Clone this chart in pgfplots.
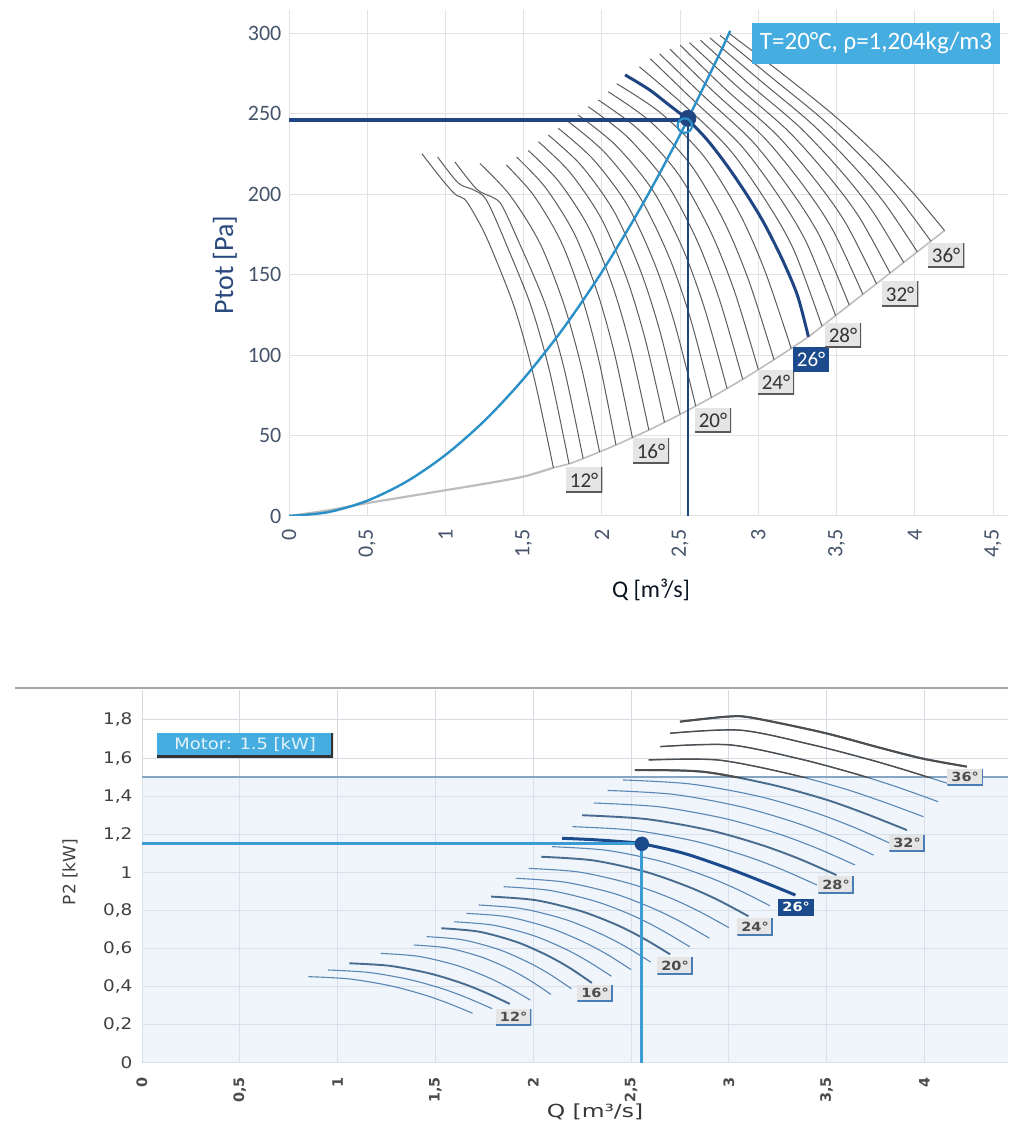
\documentclass[border=0pt]{standalone}
\usepackage{pgfplots}
\pgfplotsset{compat=1.18}
\usepackage{fontspec}
\setmainfont{Carlito}
\newfontfamily\botfont[FakeStretch=1.15]{DejaVu Sans}
\newfontfamily\botwide[FakeStretch=1.3]{DejaVu Sans}
\newfontfamily\botplain{DejaVu Sans}
\definecolor{navy}{HTML}{1F4582}
\definecolor{navylbl}{HTML}{2A4A7E}
\definecolor{sysblue}{HTML}{2B90C8}
\definecolor{boxblue}{HTML}{45ADE0}
\definecolor{fancurve}{HTML}{5C5C5C}
\definecolor{envgray}{HTML}{BDBDBD}
\definecolor{gridc}{HTML}{E2E2E2}
\definecolor{botgrid}{HTML}{D6DBE1}
\definecolor{tickc}{HTML}{45546A}
\definecolor{botcurve}{HTML}{5A87B4}
\definecolor{botdark}{HTML}{4E4E4E}
\definecolor{shade}{HTML}{DCE8F4}
\definecolor{motorline}{HTML}{86A6C4}
\definecolor{oplight}{HTML}{3A9BD5}
\definecolor{navy2}{HTML}{1B4B8C}
\definecolor{lblblue}{HTML}{4A7DB5}
\pgfplotsset{
  fan/.style={fancurve, line width=0.5pt, smooth},
  bcurve/.style={botcurve, line width=0.55pt, smooth},
  bthick/.style={botcurve!80!black, line width=0.95pt, smooth},
  dcurve/.style={botdark, line width=0.7pt, smooth},
  dthick/.style={botdark, line width=1pt, smooth},
}
\tikzset{
  tlbl/.style={fill=black!10, text=black!80, font=\fontsize{10.5}{11}\selectfont,
    inner xsep=2pt, inner ysep=1.5pt, minimum height=12.5pt,
    path picture={\draw[black!65, line width=1.4pt] (path picture bounding box.north east) -- (path picture bounding box.south east) -- (path picture bounding box.south west);}},
  tlblsel/.style={fill=navy2, text=white, font=\fontsize{10.5}{11}\selectfont,
    inner xsep=2pt, inner ysep=1.5pt, minimum height=12.5pt},
  blbl/.style={fill=black!10, text=black!70, font=\botfont\bfseries\fontsize{6.3}{7}\selectfont,
    inner xsep=2pt, inner ysep=1pt, minimum height=8.5pt,
    path picture={\draw[lblblue, line width=1.3pt] (path picture bounding box.north east) -- (path picture bounding box.south east) -- (path picture bounding box.south west);}},
  blblsel/.style={fill=navy2, text=white, font=\botfont\bfseries\fontsize{6.3}{7}\selectfont,
    inner xsep=2pt, inner ysep=1pt, minimum height=8.5pt},
}
\begin{document}
\begin{tikzpicture}[x=1pt,y=1pt]
\useasboundingbox (0,0) rectangle (504,561.5);
\draw[black!35, line width=0.6pt] (7.5,217.5) -- (504,217.5);
% ================= TOP CHART =================
\begin{axis}[
  at={(144.5pt,303.5pt)}, anchor=south west, scale only axis,
  width=359.5pt, height=252.75pt,
  xmin=0, xmax=4.596, ymin=0, ymax=314,
  xtick={0,0.5,1,1.5,2,2.5,3,3.5,4,4.5},
  ytick={0,50,100,150,200,250,300},
  grid=major, grid style={gridc, line width=0.5pt},
  axis line style={draw=none}, major tick length=0pt,
  tick label style={font=\fontsize{11}{12}\selectfont, text=tickc},
  /pgf/number format/assume math mode=true,
  /pgf/number format/use comma,
  xticklabel style={rotate=90, anchor=east},
  xticklabel shift=3.3pt,
  yticklabel shift=0.3pt,
]
% lower envelope
\addplot[envgray, line width=1.1pt, smooth] coordinates {(0,0)(0.25,3.5)(0.5,8)(0.75,12)(1.0,16)(1.25,20)(1.5,24.5)(1.69,30)};
\addplot[envgray, line width=0.8pt, smooth] coordinates {(1.69,30)(1.79,32.4)(1.88,35.7)(1.985,39.8)(2.09,44.1)(2.195,48.7)(2.30,53.4)(2.40,58.2)(2.50,63.1)(2.60,68.3)(2.70,73.6)(2.80,79.2)(2.90,84.9)(3.00,90.9)(3.10,97.1)(3.21,104.1)(3.32,111.3)(3.407,117.9)(3.494,124.5)(3.581,131.1)(3.668,137.7)(3.755,144.3)(3.842,150.9)(3.929,157.5)(4.016,164.1)(4.103,170.7)(4.19,177.3)};
% fan curves 10..36 deg
\addplot[fan] coordinates {(0.85,225)(0.97,210)(1.06,200)(1.12,197)(1.17,190)(1.27,171.4)(1.438,130.3)(1.564,86.9)(1.69,30)};
\addplot[fan] coordinates {(0.95,223)(1.08,207)(1.17,203)(1.24,199)(1.29,191)(1.38,170.8)(1.545,131)(1.668,89)(1.79,32.4)};
\addplot[fan] coordinates {(1.06,220)(1.20,203)(1.30,198)(1.36,193)(1.47,170)(1.638,131.5)(1.76,91)(1.88,35.7)};
\addplot[fan] coordinates {(1.22,219)(1.411,199.4)(1.6025,169.7)(1.7555,131.9)(1.870,92.1)(1.985,39.8)};
\addplot[fan] coordinates {(1.39,218)(1.565,199)(1.74,170.2)(1.88,133.5)(1.985,94.8)(2.09,44.1)};
\addplot[fan] coordinates {(1.455,223)(1.64,203.9)(1.825,175.1)(1.973,138.3)(2.084,99.5)(2.195,48.7)};
\addplot[fan] coordinates {(1.53,227)(1.7225,208)(1.915,179.3)(2.069,142.7)(2.1845,104)(2.30,53.4)};
\addplot[fan] coordinates {(1.594,232.5)(1.796,213.4)(1.997,184.6)(2.158,147.8)(2.279,109)(2.40,58.2)};
\addplot[fan] coordinates {(1.658,236.6)(1.869,217.6)(2.079,188.9)(2.247,152.3)(2.374,113.7)(2.50,63.1)};
\addplot[fan] coordinates {(1.721,240.8)(1.941,221.9)(2.161,193.4)(2.336,157)(2.468,118.6)(2.60,68.3)};
\addplot[fan] coordinates {(1.785,245)(2.014,226.2)(2.243,197.9)(2.426,161.7)(2.563,123.6)(2.70,73.6)};
\addplot[fan] coordinates {(1.849,249)(2.087,230.4)(2.325,202.3)(2.515,166.5)(2.657,128.7)(2.80,79.2)};
\addplot[fan] coordinates {(1.913,254.2)(2.160,235.7)(2.407,207.6)(2.604,172)(2.752,134.3)(2.90,84.9)};
\addplot[fan] coordinates {(1.977,258.4)(2.233,240.1)(2.489,212.3)(2.693,177)(2.847,139.7)(3.00,90.9)};
\addplot[fan] coordinates {(2.041,263.5)(2.306,245.3)(2.571,217.7)(2.782,182.7)(2.941,145.6)(3.10,97.1)};
\addplot[fan] coordinates {(2.095,268.5)(2.374,250.5)(2.653,223.3)(2.876,188.6)(3.043,152)(3.21,104.1)};
\addplot[fan] coordinates {(2.24,279)(2.513,256.3)(2.811,228.2)(3.049,195.7)(3.228,165)(3.407,117.9)};
\addplot[fan] coordinates {(2.31,284)(2.583,258.4)(2.887,230.4)(3.130,198.7)(3.312,169)(3.494,124.5)};
\addplot[fan] coordinates {(2.37,287)(2.654,260.5)(2.963,232.6)(3.210,201.8)(3.396,173.1)(3.581,131.1)};
\addplot[fan] coordinates {(2.435,290)(2.725,262.6)(3.039,234.8)(3.291,204.8)(3.479,177.1)(3.668,137.7)};
\addplot[fan] coordinates {(2.50,292.5)(2.795,264.7)(3.115,237)(3.371,207.8)(3.563,181.2)(3.755,144.3)};
\addplot[fan] coordinates {(2.56,294)(2.866,266.7)(3.191,239.1)(3.451,210.8)(3.647,185.3)(3.842,150.9)};
\addplot[fan] coordinates {(2.63,295.5)(2.936,268.8)(3.267,241.3)(3.532,213.8)(3.730,189.3)(3.929,157.5)};
\addplot[fan] coordinates {(2.69,297)(3.007,270.9)(3.343,243.5)(3.612,216.9)(3.814,193.4)(4.016,164.1)};
\addplot[fan] coordinates {(2.755,298.5)(3.077,273)(3.419,245.7)(3.693,219.9)(3.898,197.4)(4.103,170.7)};
\addplot[fan] coordinates {(2.81,300)(3.148,275.1)(3.495,247.9)(3.773,222.9)(3.982,201.5)(4.19,177.3)};
% selected 26 deg
\addplot[navy, line width=1.5pt, smooth] coordinates {(2.148,274)(2.30,265)(2.42,256)(2.55,246)(2.67,234)(2.79,219)(2.91,202)(3.03,183)(3.15,160)(3.25,137)(3.32,111.3)};
% system curve
\addplot[sysblue, line width=1.2pt, smooth] coordinates {(0,0)(0.25,2.37)(0.5,9.48)(0.75,21.3)(1,37.9)(1.25,59.2)(1.5,85.3)(1.75,116.1)(2,151.6)(2.25,191.9)(2.5,236.9)(2.75,286.6)(2.82,301.4)};
% operating point lines
\addplot[navy, line width=1.6pt] coordinates {(0,246)(2.55,246)};
\addplot[navy, line width=1.4pt] coordinates {(2.55,246)(2.55,0)};
\addplot[only marks, mark=*, mark size=4pt, mark options={draw=navy, fill=navy}] coordinates {(2.55,247)};
\addplot[only marks, mark=o, mark size=3.6pt, mark options={draw=sysblue, line width=1.1pt}] coordinates {(2.53,242.5)};
% labels
\node[tlbl] at (axis cs:1.886,22.4) {12°};
\node[tlbl] at (axis cs:2.314,40.4) {16°};
\node[tlbl] at (axis cs:2.710,59.6) {20°};
\node[tlbl] at (axis cs:3.113,83.2) {24°};
\node[tlblsel] at (axis cs:3.337,97.5) {26°};
\node[tlbl] at (axis cs:3.541,112.4) {28°};
\node[tlbl] at (axis cs:3.906,137.9) {32°};
\node[tlbl] at (axis cs:4.200,162.1) {36°};
\node[fill=boxblue, text=white, minimum width=124pt, minimum height=20.5pt, inner sep=0pt, font=\fontsize{12.5}{14}\selectfont] at (axis cs:3.752,293.8) {T=20°C, ρ=1,204kg/m3};
\end{axis}
\node[rotate=90, text=navylbl, font=\fontsize{14}{15}\selectfont] at (112.5,429) {Ptot [Pa]};
\node[text=black!75!navylbl, font=\fontsize{12}{14}\selectfont] at (325.5,266.5) {Q [m³/s]};
% ================= BOTTOM CHART =================
\begin{axis}[
  at={(71pt,30pt)}, anchor=south west, scale only axis,
  width=433pt, height=186.5pt,
  xmin=0, xmax=4.427, ymin=0, ymax=1.957,
  xtick={0,0.5,1,1.5,2,2.5,3,3.5,4},
  ytick={0,0.2,0.4,0.6,0.8,1,1.2,1.4,1.6,1.8},
  grid=major, grid style={botgrid, line width=0.5pt},
  axis line style={draw=none}, major tick length=0pt,
  yticklabel style={font=\botfont\fontsize{8}{9}\selectfont, text=black!75},
  xticklabel style={font=\botplain\bfseries\fontsize{7.2}{8}\selectfont, text=black!70, rotate=90, anchor=east},
  /pgf/number format/assume math mode=true,
  /pgf/number format/use comma,
  xticklabel shift=3.5pt,
  yticklabel shift=1.3pt,
]
\addplot[fill=shade, fill opacity=0.45, draw=none] coordinates {(0,0)(4.427,0)(4.427,1.5)(0,1.5)} -- cycle;
\addplot[motorline, line width=1pt] coordinates {(0,1.5)(4.427,1.5)};
\addplot[bcurve] coordinates {(0.85,0.453)(1.06,0.441)(1.27,0.405)(1.438,0.359)(1.564,0.314)(1.69,0.261)};
\addplot[bcurve] coordinates {(0.95,0.488)(1.16,0.475)(1.37,0.437)(1.538,0.389)(1.664,0.341)(1.79,0.285)};
\addplot[bthick] coordinates {(1.06,0.523)(1.265,0.510)(1.47,0.470)(1.634,0.419)(1.757,0.369)(1.88,0.31)};
\addplot[bcurve] coordinates {(1.22,0.575)(1.411,0.560)(1.6025,0.514)(1.7555,0.455)(1.870,0.398)(1.985,0.33)};
\addplot[bcurve] coordinates {(1.39,0.619)(1.565,0.603)(1.74,0.554)(1.88,0.492)(1.985,0.432)(2.09,0.36)};
\addplot[bcurve] coordinates {(1.455,0.663)(1.64,0.646)(1.825,0.595)(1.973,0.529)(2.084,0.466)(2.195,0.39)};
\addplot[bthick] coordinates {(1.53,0.707)(1.7225,0.689)(1.915,0.635)(2.069,0.566)(2.1845,0.500)(2.30,0.42)};
\addplot[bcurve] coordinates {(1.594,0.741)(1.796,0.723)(1.997,0.670)(2.158,0.601)(2.279,0.534)(2.40,0.455)};
\addplot[bcurve] coordinates {(1.658,0.785)(1.869,0.767)(2.079,0.711)(2.247,0.640)(2.374,0.572)(2.50,0.49)};
\addplot[bcurve] coordinates {(1.721,0.829)(1.941,0.810)(2.161,0.754)(2.336,0.682)(2.468,0.613)(2.60,0.53)};
\addplot[bthick] coordinates {(1.785,0.873)(2.014,0.854)(2.243,0.797)(2.426,0.725)(2.563,0.654)(2.70,0.57)};
\addplot[bcurve] coordinates {(1.849,0.925)(2.087,0.905)(2.325,0.846)(2.515,0.771)(2.657,0.697)(2.80,0.61)};
\addplot[bcurve] coordinates {(1.913,0.969)(2.160,0.949)(2.407,0.891)(2.604,0.815)(2.752,0.742)(2.90,0.655)};
\addplot[bcurve] coordinates {(1.977,1.021)(2.233,1.002)(2.489,0.943)(2.693,0.869)(2.847,0.796)(3.00,0.71)};
\addplot[bthick] coordinates {(2.041,1.082)(2.306,1.063)(2.571,1.004)(2.782,0.929)(2.941,0.857)(3.10,0.77)};
\addplot[bcurve] coordinates {(2.095,1.135)(2.374,1.116)(2.653,1.058)(2.876,0.983)(3.043,0.911)(3.21,0.825)};
\addplot[bcurve] coordinates {(2.20,1.24)(2.5125,1.221)(2.825,1.164)(3.075,1.090)(3.2625,1.019)(3.45,0.934)};
\addplot[bthick] coordinates {(2.25,1.30)(2.575,1.280)(2.90,1.2215)(3.16,1.146)(3.355,1.073)(3.55,0.986)};
\addplot[bcurve] coordinates {(2.31,1.364)(2.644,1.344)(2.978,1.283)(3.245,1.205)(3.445,1.129)(3.645,1.039)};
\addplot[bcurve] coordinates {(2.38,1.43)(2.72,1.409)(3.06,1.345)(3.332,1.264)(3.536,1.185)(3.74,1.091)};
\addplot[bcurve] coordinates {(2.46,1.485)(2.8025,1.464)(3.145,1.401)(3.419,1.321)(3.6245,1.243)(3.83,1.15)};
\addplot[bthick] coordinates {(2.52,1.537)(2.8675,1.528)(3.215,1.461)(3.493,1.383)(3.7015,1.307)(3.91,1.222)};
\addplot[bcurve] coordinates {(2.59,1.590)(2.941,1.590)(3.2925,1.521)(3.5735,1.444)(3.784,1.372)(3.995,1.292)};
\addplot[bcurve] coordinates {(2.65,1.660)(3.005,1.669)(3.36,1.596)(3.644,1.518)(3.857,1.449)(4.07,1.371)};
\addplot[bcurve] coordinates {(2.70,1.730)(3.06,1.746)(3.42,1.671)(3.708,1.595)(3.924,1.530)(4.14,1.46)};
\addplot[bthick] coordinates {(2.75,1.791)(2.99,1.817)(3.115,1.812)(3.48,1.734)(3.772,1.654)(3.991,1.597)(4.216,1.555)};
% selected 26 deg
\addplot[navy2, line width=1.5pt, smooth] coordinates {(2.148,1.179)(2.30,1.172)(2.43,1.163)(2.555,1.150)(2.77,1.100)(3.0,1.02)(3.2,0.94)(3.34,0.881)};
% operating point
\addplot[oplight, line width=1.5pt] coordinates {(0,1.15)(2.555,1.15)};
\addplot[oplight, line width=1.5pt] coordinates {(2.555,1.15)(2.555,0)};
\addplot[only marks, mark=*, mark size=3.4pt, mark options={draw=navy2, fill=navy2}] coordinates {(2.555,1.15)};
\coordinate (B12) at (axis cs:1.90,0.241);
\coordinate (B16) at (axis cs:2.316,0.367);
\coordinate (B20) at (axis cs:2.725,0.509);
\coordinate (B24) at (axis cs:3.134,0.714);
\coordinate (B26) at (axis cs:3.344,0.818);
\coordinate (B28) at (axis cs:3.548,0.934);
\coordinate (B32) at (axis cs:3.911,1.154);
\coordinate (B36) at (axis cs:4.208,1.50);
\coordinate (BM) at (axis cs:0.527,1.668);
\end{axis}
% dark parts above the motor limit (clipped at 1.5 kW)
\begin{axis}[
  at={(71pt,172.95pt)}, anchor=south west, scale only axis,
  width=433pt, height=43.55pt,
  xmin=0, xmax=4.427, ymin=1.5, ymax=1.957, hide axis,
]
\addplot[dthick] coordinates {(2.52,1.537)(2.8675,1.528)(3.215,1.461)(3.493,1.383)(3.7015,1.307)(3.91,1.222)};
\addplot[dcurve] coordinates {(2.59,1.590)(2.941,1.590)(3.2925,1.521)(3.5735,1.444)(3.784,1.372)(3.995,1.292)};
\addplot[dcurve] coordinates {(2.65,1.660)(3.005,1.669)(3.36,1.596)(3.644,1.518)(3.857,1.449)(4.07,1.371)};
\addplot[dcurve] coordinates {(2.70,1.730)(3.06,1.746)(3.42,1.671)(3.708,1.595)(3.924,1.530)(4.14,1.46)};
\addplot[dthick] coordinates {(2.75,1.791)(2.99,1.817)(3.115,1.812)(3.48,1.734)(3.772,1.654)(3.991,1.597)(4.216,1.555)};
\end{axis}
\node[blbl] at (B12) {12°};
\node[blbl] at (B16) {16°};
\node[blbl] at (B20) {20°};
\node[blbl] at (B24) {24°};
\node[blblsel] at (B26) {26°};
\node[blbl] at (B28) {28°};
\node[blbl] at (B32) {32°};
\node[blbl] at (B36) {36°};
\node[fill=boxblue, text=white!85!boxblue, minimum width=88pt, minimum height=12pt, inner sep=0pt,
  font=\botfont\fontsize{7.8}{9}\selectfont,
  path picture={\draw[black!80, line width=1.6pt] (path picture bounding box.south west) -- (path picture bounding box.south east) -- (path picture bounding box.north east);}] at (BM) {Motor: 1.5 [kW]};
\node[rotate=90, text=black!75, font=\botplain\fontsize{8.5}{10}\selectfont] at (35,125.5) {P2 [kW]};
\node[text=black!78, font=\botwide\fontsize{9}{11}\selectfont] at (297.5,5.5) {Q [m³/s]};
\end{tikzpicture}
\end{document}
